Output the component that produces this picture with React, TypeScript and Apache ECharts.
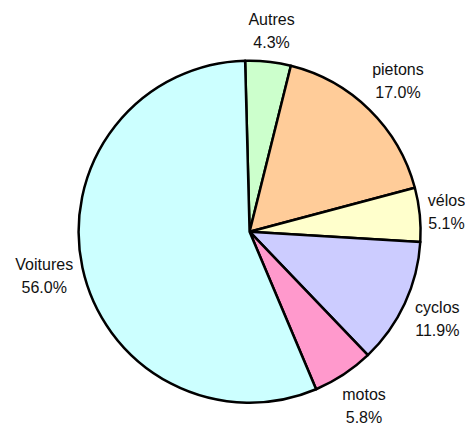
import React, { useEffect, useRef } from "react";
import * as echarts from "echarts";

const categories = ["Autres", "pietons", "vélos", "cyclos", "motos", "Voitures"];
const values = [4.3, 17.0, 5.1, 11.9, 5.8, 56.0];
const colors = ["#CCFFCC", "#FFCC99", "#FFFFCC", "#CCCCFF", "#FF99CC", "#CCFFFF"];

const CX = 249.6;
const CY = 231.7;
const R = 171;
const START = 91.5;
const GAP = 6;

export default function App() {
  const ref = useRef<HTMLDivElement>(null);
  useEffect(() => {
    if (!ref.current) return;
    const chart = echarts.init(ref.current, null, { renderer: "svg" });
    const total = values.reduce((a, b) => a + b, 0);
    const mids: number[] = [];
    let cum = 0;
    values.forEach((v) => {
      const a = (90 - START) + ((cum + v / 2) / total) * 360;
      mids.push((a * Math.PI) / 180);
      cum += v;
    });
    chart.setOption({
      animation: false,
      backgroundColor: "#ffffff",
      series: [
        {
          type: "pie",
          center: [CX, CY],
          radius: R,
          startAngle: START,
          clockwise: true,
          avoidLabelOverlap: false,
          data: categories.map((c, i) => ({
            name: c,
            value: values[i],
            itemStyle: { color: colors[i] },
          })),
          itemStyle: { borderColor: "#000", borderWidth: 2.5 },
          label: {
            show: true,
            position: "outside",
            formatter: (p: any) => `${p.name}\n${p.value.toFixed(1)}%`,
            fontFamily: "Liberation Sans, Arial, sans-serif",
            fontSize: 16,
            lineHeight: 23,
            color: "#111",
            align: "center",
          },
          labelLine: { show: false },
          emphasis: { disabled: true },
          labelLayout: (params: any) => {
            const th = mids[params.dataIndex];
            const s = Math.sin(th);
            const c = Math.cos(th);
            const w = params.labelRect.width;
            const h = params.labelRect.height;
            const d = R + GAP + Math.abs(s) * w / 2 + Math.abs(c) * h / 2;
            return {
              x: CX + d * s,
              y: CY - d * c,
              align: "center",
              verticalAlign: "middle",
            };
          },
        },
      ],
    });
    return () => chart.dispose();
  }, []);
  return (
    <div
      ref={ref}
      style={{ position: "fixed", left: 0, top: 0, width: 465, height: 423 }}
    />
  );
}
